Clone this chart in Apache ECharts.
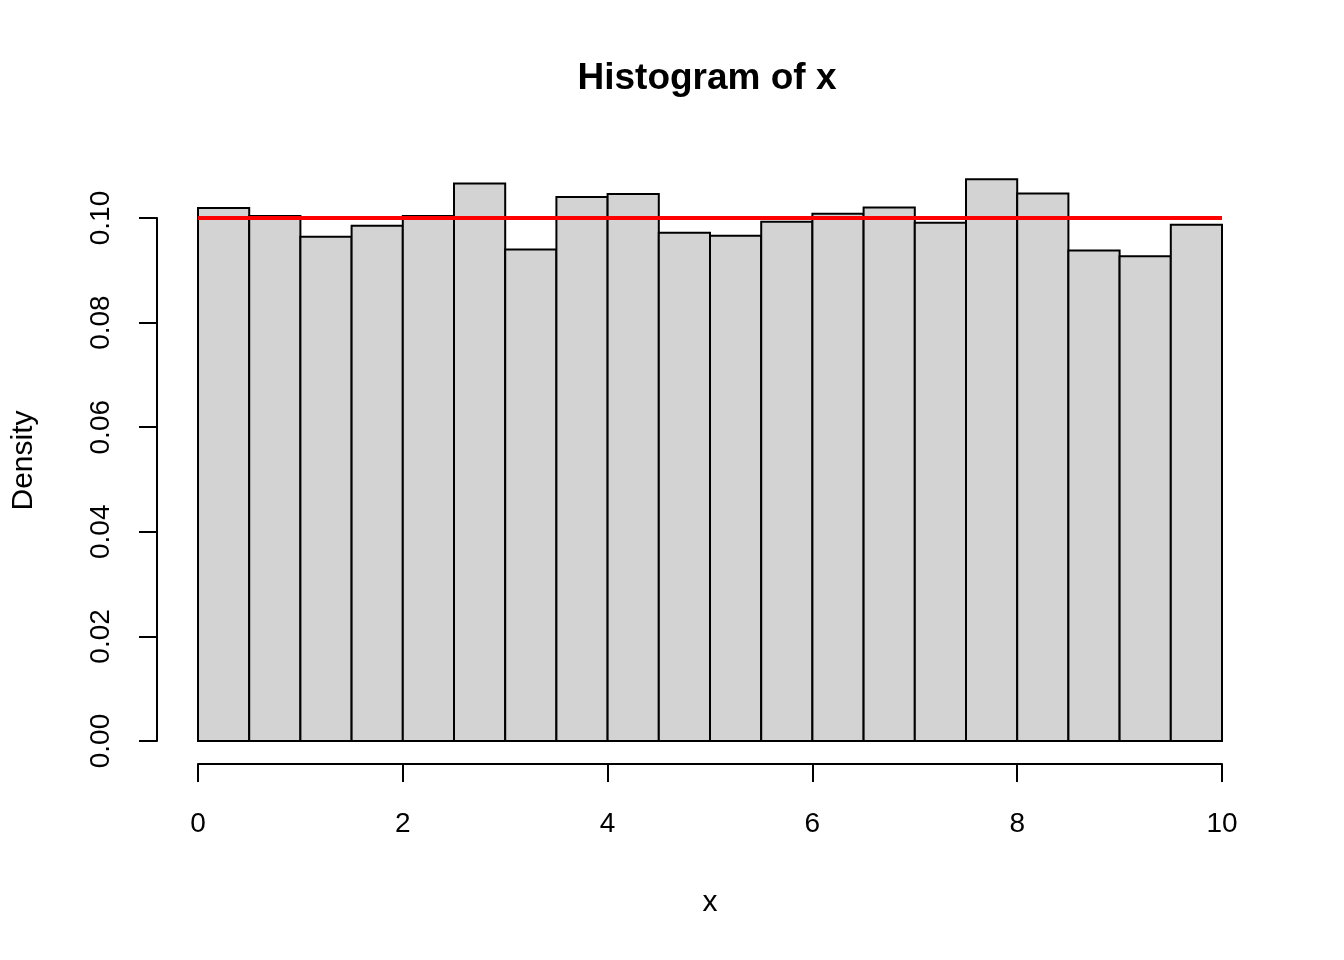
<!DOCTYPE html>
<html>
<head>
<meta charset="utf-8">
<script src="https://cdn.jsdelivr.net/npm/echarts@6/dist/echarts.min.js"></script>
<style>html,body{margin:0;padding:0;background:#fff}#c{width:1344px;height:960px}</style>
</head>
<body>
<div id="c"></div>
<script>
// Histogram bins (breaks) and densities
const binStarts = [0,0.5,1,1.5,2,2.5,3,3.5,4,4.5,5,5.5,6,6.5,7,7.5,8,8.5,9,9.5];
const binEnds   = [0.5,1,1.5,2,2.5,3,3.5,4,4.5,5,5.5,6,6.5,7,7.5,8,8.5,9,9.5,10];
const densities = [0.1019,0.1004,0.0964,0.0985,0.1004,0.1066,0.0940,0.1040,0.1046,0.0972,
                   0.0966,0.0993,0.1008,0.1020,0.0991,0.1074,0.1047,0.0938,0.0927,0.0987];
// Uniform density reference line
const refLineX = [0, 10];
const refLineY = [0.1, 0.1];
const xTicks = [0,2,4,6,8,10];
const yTicks = [0,0.02,0.04,0.06,0.08,0.10];
const titleText = 'Histogram of x';
const xName = 'x';
const yName = 'Density';

const FONT = "'Liberation Sans', Arial, sans-serif";
const chart = echarts.init(document.getElementById('c'));
const histData = binStarts.map((s,i)=>[s, binEnds[i], densities[i]]);
const lineData = refLineX.map((x,i)=>[x, refLineY[i]]);

chart.setOption({
  backgroundColor: '#fff',
  animation: false,
  graphic: [{
    type: 'text', x: 707, y: 79,
    style: {text: titleText, font: "bold 37px " + FONT, fill: '#000', align: 'center', verticalAlign: 'middle'}
  }],
  grid: {left: 198, right: 122, top: 218, bottom: 219, containLabel: false},
  xAxis: {
    type: 'value', min: xTicks[0], max: xTicks[xTicks.length-1], interval: 2,
    position: 'bottom', offset: 23,
    axisLine: {show: true, onZero: false, lineStyle: {color: '#000', width: 2}},
    axisTick: {show: true, length: 18, lineStyle: {color: '#000', width: 2}},
    axisLabel: {color: '#000', fontSize: 28, fontFamily: FONT, margin: 46, formatter: v => String(v)},
    splitLine: {show: false},
    name: xName, nameLocation: 'middle', nameGap: 124,
    nameTextStyle: {color: '#000', fontSize: 30, fontFamily: FONT}
  },
  yAxis: {
    type: 'value', min: yTicks[0], max: yTicks[yTicks.length-1], interval: 0.02,
    position: 'left', offset: 41,
    axisLine: {show: true, onZero: false, lineStyle: {color: '#000', width: 2}},
    axisTick: {show: true, length: 18, lineStyle: {color: '#000', width: 2}},
    axisLabel: {color: '#000', fontSize: 28, fontFamily: FONT, rotate: 90, margin: 42, formatter: v => v.toFixed(2)},
    splitLine: {show: false},
    name: yName, nameLocation: 'middle', nameGap: 118, nameRotate: 90,
    nameTextStyle: {color: '#000', fontSize: 30, fontFamily: FONT, padding: [0, 0, 0, 38]}
  },
  series: [{
    type: 'custom',
    clip: false,
    data: histData,
    encode: {x: [0,1], y: 2},
    renderItem: function (params, api) {
      const p0 = api.coord([api.value(0), api.value(2)]);
      const p1 = api.coord([api.value(1), 0]);
      return {
        type: 'rect',
        shape: {x: p0[0], y: p0[1], width: p1[0]-p0[0], height: p1[1]-p0[1]},
        style: {fill: '#d3d3d3', stroke: '#000', lineWidth: 2}
      };
    },
    z: 2
  }, {
    type: 'line',
    data: lineData,
    symbol: 'none',
    lineStyle: {color: '#ff0000', width: 4},
    z: 5
  }]
});
</script>
</body>
</html>
